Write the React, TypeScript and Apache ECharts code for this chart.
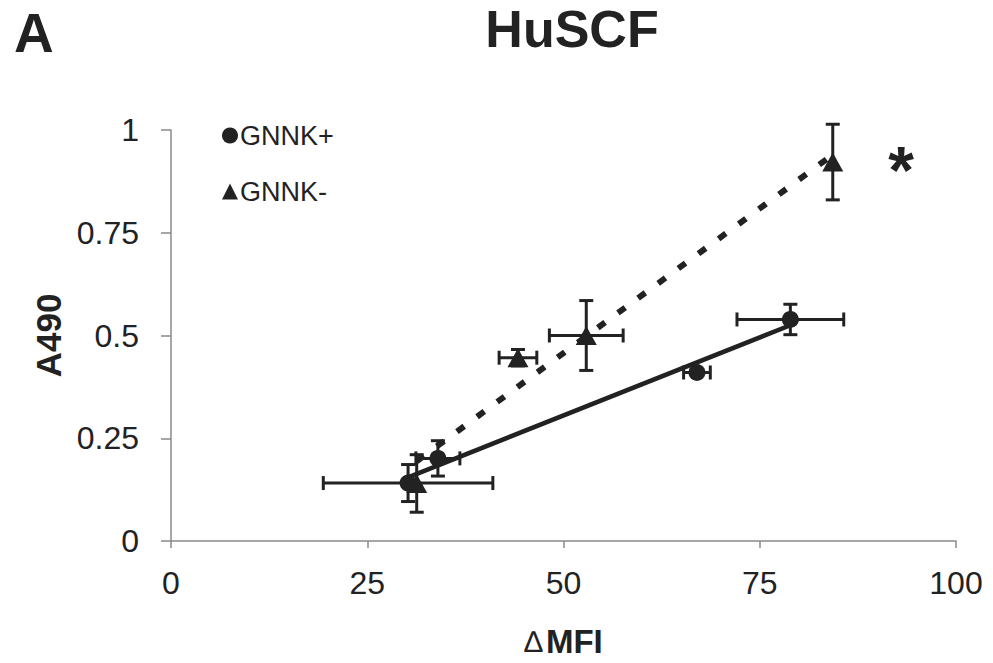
import React, { useEffect, useRef } from "react";
import * as echarts from "echarts";

// ΔMFI (x) and A490 (y) means with their standard errors
const gnnkPosX = [30.2, 34.0, 67.0, 78.9];
const gnnkPosY = [0.141, 0.201, 0.41, 0.539];
const gnnkPosXErr = [10.8, 2.8, 1.7, 6.8];
const gnnkPosYErr = [0.045, 0.043, 0, 0.037];

const gnnkNegX = [31.3, 44.2, 52.9, 84.3];
const gnnkNegY = [0.14, 0.446, 0.5, 0.922];
const gnnkNegXErr = [0, 2.4, 4.7, 0];
const gnnkNegYErr = [0.07, 0.02, 0.085, 0.092];

// linear trend end points
const gnnkPosTrendX = [30.2, 78.9];
const gnnkPosTrendY = [0.155, 0.525];
const gnnkNegTrendX = [31.3, 84.3];
const gnnkNegTrendY = [0.194, 0.94];

const seriesNames = ["GNNK+", "GNNK-"];
const significantIndex = 3; // GNNK- point marked with an asterisk

const INK = "#222222";
const AXIS = "#8a8a8a";
const FONT = "'Liberation Sans', Arial, sans-serif";

const zip = (xs: number[], ys: number[]) => xs.map((x, i) => [x, ys[i]]);
const zip4 = (a: number[], b: number[], c: number[], d: number[]) =>
  a.map((v, i) => [v, b[i], c[i], d[i]]);

const CAP = 7;

function renderErrorBar(params: any, api: any) {
  const x = api.value(0);
  const y = api.value(1);
  const xe = api.value(2);
  const ye = api.value(3);
  const style = { stroke: INK, lineWidth: 3, fill: "none" };
  const children: any[] = [];
  if (xe > 0) {
    const l = api.coord([x - xe, y]);
    const r = api.coord([x + xe, y]);
    children.push({ type: "line", shape: { x1: l[0], y1: l[1], x2: r[0], y2: r[1] }, style });
    children.push({ type: "line", shape: { x1: l[0], y1: l[1] - CAP, x2: l[0], y2: l[1] + CAP }, style });
    children.push({ type: "line", shape: { x1: r[0], y1: r[1] - CAP, x2: r[0], y2: r[1] + CAP }, style });
  }
  if (ye > 0) {
    const t = api.coord([x, y + ye]);
    const b = api.coord([x, y - ye]);
    children.push({ type: "line", shape: { x1: t[0], y1: t[1], x2: b[0], y2: b[1] }, style });
    children.push({ type: "line", shape: { x1: t[0] - CAP, y1: t[1], x2: t[0] + CAP, y2: t[1] }, style });
    children.push({ type: "line", shape: { x1: b[0] - CAP, y1: b[1], x2: b[0] + CAP, y2: b[1] }, style });
  }
  return { type: "group", children };
}

export default function App() {
  const ref = useRef<HTMLDivElement>(null);

  useEffect(() => {
    if (!ref.current) return;
    const chart = echarts.init(ref.current, null, { renderer: "svg" });

    const negPoints = zip(gnnkNegX, gnnkNegY).map((p, i) =>
      i === significantIndex
        ? {
            value: p,
            label: {
              show: true,
              formatter: "*",
              position: "right",
              distance: 45,
              offset: [0, 8],
              fontSize: 66,
              fontWeight: "bold",
              fontFamily: FONT,
              color: INK,
            },
          }
        : { value: p }
    );

    chart.setOption({
      animation: false,
      backgroundColor: "#ffffff",
      textStyle: { fontFamily: FONT, color: INK },
      title: [
        {
          text: "A",
          left: 9,
          top: 0,
          textStyle: { fontSize: 55, fontWeight: "bold", color: INK, fontFamily: FONT },
        },
        {
          text: "HuSCF",
          left: 567,
          textAlign: "center",
          top: -2,
          textStyle: { fontSize: 52, fontWeight: "bold", color: INK, fontFamily: FONT },
        },
      ],
      legend: {
        data: seriesNames,
        orient: "vertical",
        left: 217,
        top: 117,
        itemGap: 29,
        itemWidth: 16,
        itemHeight: 16,
        textStyle: { fontSize: 27, color: INK, fontFamily: FONT, padding: [0, 0, 0, -3] },
      },
      grid: { left: 171, right: 37, top: 130, bottom: 116 },
      xAxis: {
        type: "value",
        min: 0,
        max: 100,
        interval: 25,
        name: "{d|∆} {b|MFI}",
        nameLocation: "middle",
        nameGap: 84,
        nameTextStyle: {
          rich: {
            d: { fontSize: 30, color: INK, fontFamily: FONT },
            b: { fontSize: 33, fontWeight: "bold", color: INK, fontFamily: FONT },
          },
        },
        axisLine: { lineStyle: { color: AXIS, width: 1.5 } },
        axisTick: { length: 7, lineStyle: { color: AXIS, width: 1.5 } },
        axisLabel: { fontSize: 32, color: INK, margin: 26, fontFamily: FONT },
        splitLine: { show: false },
      },
      yAxis: {
        type: "value",
        min: 0,
        max: 1,
        interval: 0.25,
        name: "A490",
        nameLocation: "middle",
        nameGap: 88,
        nameTextStyle: { fontSize: 35, fontWeight: "bold", color: INK, fontFamily: FONT },
        axisLine: { lineStyle: { color: AXIS, width: 1.5 } },
        axisTick: { length: 10, lineStyle: { color: AXIS, width: 1.5 } },
        axisLabel: { fontSize: 32, color: INK, margin: 32, fontFamily: FONT },
        splitLine: { show: false },
      },
      series: [
        {
          name: "GNNK+ trend",
          type: "line",
          data: zip(gnnkPosTrendX, gnnkPosTrendY),
          symbol: "none",
          lineStyle: { color: INK, width: 4.5 },
          z: 2,
        },
        {
          name: "GNNK- trend",
          type: "line",
          data: zip(gnnkNegTrendX, gnnkNegTrendY),
          symbol: "none",
          lineStyle: { color: INK, width: 6, type: [9, 16] },
          z: 2,
        },
        {
          name: "GNNK+ error",
          type: "custom",
          renderItem: renderErrorBar,
          data: zip4(gnnkPosX, gnnkPosY, gnnkPosXErr, gnnkPosYErr),
          encode: { x: 0, y: 1 },
          clip: false,
          z: 3,
        },
        {
          name: "GNNK- error",
          type: "custom",
          renderItem: renderErrorBar,
          data: zip4(gnnkNegX, gnnkNegY, gnnkNegXErr, gnnkNegYErr),
          encode: { x: 0, y: 1 },
          clip: false,
          z: 3,
        },
        {
          name: seriesNames[0],
          type: "scatter",
          data: zip(gnnkPosX, gnnkPosY),
          symbol: "circle",
          symbolSize: 17,
          itemStyle: { color: INK, opacity: 1 },
          z: 4,
        },
        {
          name: seriesNames[1],
          type: "scatter",
          data: negPoints,
          symbol: "triangle",
          symbolSize: [21, 19],
          itemStyle: { color: INK, opacity: 1 },
          z: 4,
        },
      ],
    });

    return () => chart.dispose();
  }, []);

  return (
    <div
      ref={ref}
      style={{ position: "fixed", left: 0, top: 0, width: "100vw", height: "100vh", background: "#fff" }}
    />
  );
}
